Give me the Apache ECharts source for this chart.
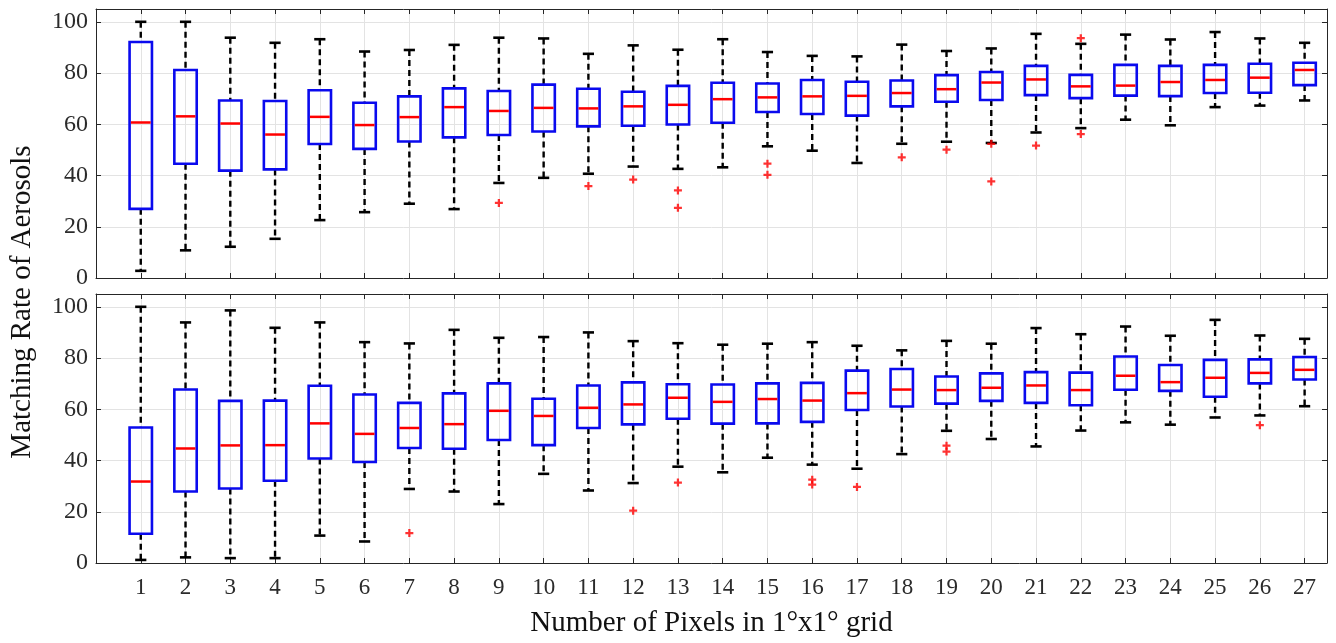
<!DOCTYPE html>
<html><head><meta charset="utf-8">
<script src="https://cdn.jsdelivr.net/npm/echarts@6/dist/echarts.min.js"></script>
<style>html,body{margin:0;padding:0;background:#fff}#c{width:1336px;height:643px}</style>
</head><body><div id="c"></div>
<script>
// ---------- data ----------
const categories = [1,2,3,4,5,6,7,8,9,10,11,12,13,14,15,16,17,18,19,20,21,22,23,24,25,26,27];
const yTickLabels = [0,20,40,60,80,100];
const xTitle = 'Number of Pixels in 1°x1° grid';
const yTitle = 'Matching Rate of Aerosols';

// top panel
const topMin = [2.8,10.8,12.2,15.3,22.6,25.7,29.0,26.9,37.1,39.1,40.7,43.5,42.6,43.2,51.4,49.7,44.9,52.4,53.2,52.7,56.8,58.5,61.8,59.6,66.7,67.3,69.3];
const topQ1  = [27.0,44.6,41.9,42.4,52.3,50.4,53.3,54.9,55.8,57.2,59.2,59.4,59.9,60.6,64.8,64.0,63.4,67.0,68.8,69.5,71.4,70.2,71.2,71.0,72.2,72.3,75.3];
const topMed = [60.7,63.1,60.3,56.0,62.9,59.7,62.8,66.7,65.2,66.4,66.2,67.0,67.6,69.8,70.5,70.9,71.1,72.2,73.7,76.3,77.5,74.8,75.1,76.5,77.3,78.2,81.2];
const topQ3  = [92.1,81.2,69.3,69.1,73.3,68.4,70.9,74.0,73.0,75.5,73.9,72.7,75.0,76.2,75.9,77.3,76.6,77.1,79.2,80.4,82.8,79.3,83.2,82.8,83.2,83.6,84.0];
const topMax = [100,100,93.8,91.8,93.2,88.4,89.0,91.0,93.8,93.5,87.5,90.8,89.1,93.2,88.2,86.7,86.5,91.1,88.6,89.6,95.3,91.4,95.0,93.1,96.0,93.5,91.8];
const topOutliers = [[9,29.3],[11,35.9],[12,38.4],[13,34.2],[13,27.4],[15,44.6],[15,40.3],[18,47.1],[19,50.1],[20,52.4],[20,37.7],[21,51.7],[22,93.6],[22,56.2]];

// bottom panel
const botMin = [1.2,2.2,1.9,1.9,10.7,8.4,28.9,27.9,23.0,34.8,28.3,31.2,37.6,35.4,41.1,38.4,36.8,42.5,51.6,48.4,45.5,51.7,54.9,54.0,56.8,57.6,61.2];
const botQ1  = [11.4,27.9,29.1,32.1,40.8,39.4,44.9,44.6,48.0,46.0,52.7,54.1,56.3,54.4,54.5,55.1,59.7,61.1,62.2,63.3,62.5,61.6,67.6,67.2,64.9,70.1,71.6];
const botMed = [31.8,44.7,45.9,46.0,54.5,50.4,52.7,54.2,59.4,57.4,60.6,61.9,64.5,62.9,64.0,63.4,66.3,67.7,67.5,68.4,69.3,67.5,73.1,70.6,72.3,74.2,75.4];
const botQ3  = [52.9,67.7,63.3,63.4,69.2,65.8,62.5,66.2,70.1,64.1,69.3,70.5,69.8,69.7,70.1,70.3,75.1,75.7,72.8,74.0,74.5,74.3,80.6,77.3,79.3,79.5,80.4];
const botMax = [100,93.9,98.6,91.8,93.9,86.2,85.7,91.0,87.9,88.2,90.0,86.6,85.8,85.2,85.6,86.2,84.8,83.0,86.7,85.6,91.7,89.3,92.3,88.7,94.9,88.8,87.5];
const botOutliers = [[7,11.7],[12,20.4],[13,31.4],[16,32.5],[16,30.6],[17,29.7],[19,45.8],[19,43.5],[26,53.8]];

// ---------- chart ----------
const FONT = "'Liberation Serif', 'Times New Roman', serif";
const BOX_W = 0.5, CAP_W = 0.25;
const AX = '#262626', GRIDC = '#e3e3e3';

function rows(mn,q1,md,q3,mx){ return categories.map((c,i)=>[c,mn[i],q1[i],md[i],q3[i],mx[i]]); }

function renderBox(params, api){
  const x = api.value(0);
  const c = v => api.coord([x, v]);
  const pLo=c(api.value(1)), pQ1=c(api.value(2)), pMd=c(api.value(3)), pQ3=c(api.value(4)), pHi=c(api.value(5));
  const bw = api.size([BOX_W,0])[0], cw = api.size([CAP_W,0])[0];
  const cx = pMd[0];
  const dash = {stroke:'#000', lineWidth:2.4, lineDash:[6,4], fill:null};
  const solid = {stroke:'#000', lineWidth:2.6, fill:null};
  return {type:'group', children:[
    {type:'line', shape:{x1:cx,y1:pHi[1],x2:cx,y2:pQ3[1]}, style:dash},
    {type:'line', shape:{x1:cx,y1:pQ1[1],x2:cx,y2:pLo[1]}, style:dash},
    {type:'line', shape:{x1:cx-cw/2,y1:pHi[1],x2:cx+cw/2,y2:pHi[1]}, style:solid},
    {type:'line', shape:{x1:cx-cw/2,y1:pLo[1],x2:cx+cw/2,y2:pLo[1]}, style:solid},
    {type:'rect', shape:{x:cx-bw/2,y:pQ3[1],width:bw,height:pQ1[1]-pQ3[1]}, style:{fill:'transparent', stroke:'#0a0aee', lineWidth:2.6}},
    {type:'line', shape:{x1:cx-bw/2+1.3,y1:pMd[1],x2:cx+bw/2-1.3,y2:pMd[1]}, style:{stroke:'#ff0000', lineWidth:2.5}}
  ]};
}

const PLUS = 'path://M3.6,0H6.4V3.6H10V6.4H6.4V10H3.6V6.4H0V3.6H3.6Z';

function xAxes(gi, showLabels){
  return [
    {gridIndex:gi, type:'value', position:'bottom', min:0, max:27.5, interval:1,
     axisLine:{show:true, onZero:false, lineStyle:{color:AX, width:1}},
     axisTick:{show:true, inside:true, length:5, lineStyle:{color:AX}},
     axisLabel:{show:showLabels, margin:13, color:'#2b2b2b', fontFamily:FONT, fontSize:23,
       showMinLabel:true, showMaxLabel:true,
       formatter: v => (Number.isInteger(v) && categories.indexOf(v)>=0) ? String(v) : ''},
     splitLine:{show:true, lineStyle:{color:GRIDC, width:1}},
     name: showLabels ? xTitle : '', nameLocation:'middle', nameGap:46,
     nameTextStyle:{fontFamily:FONT, fontSize:29, color:'#111'}},
    {gridIndex:gi, type:'value', position:'top', min:0, max:27.5, interval:1,
     axisLine:{show:true, onZero:false, lineStyle:{color:AX, width:1}},
     axisTick:{show:true, inside:true, length:5, lineStyle:{color:AX}},
     axisLabel:{show:false}, splitLine:{show:false}}
  ];
}
function yAxes(gi){
  return [
    {gridIndex:gi, type:'value', position:'left', min:0, max:105, interval:20,
     axisLine:{show:true, onZero:false, lineStyle:{color:AX, width:1}},
     axisTick:{show:true, inside:true, length:5, lineStyle:{color:AX}},
     axisLabel:{show:true, margin:8, color:'#2b2b2b', fontFamily:FONT, fontSize:24,
       formatter: v => yTickLabels.indexOf(v)>=0 ? String(v) : ''},
     splitLine:{show:true, lineStyle:{color:GRIDC, width:1}}},
    {gridIndex:gi, type:'value', position:'right', min:0, max:105, interval:20,
     axisLine:{show:true, onZero:false, lineStyle:{color:AX, width:1}},
     axisTick:{show:true, inside:true, length:5, lineStyle:{color:AX}},
     axisLabel:{show:false}, splitLine:{show:false}}
  ];
}

const option = {
  animation:false,
  backgroundColor:'#fff',
  grid:[
    {left:96, right:9, top:9, height:269},
    {left:96, right:9, top:294, height:269}
  ],
  xAxis:[...xAxes(0,false), ...xAxes(1,true)],
  yAxis:[...yAxes(0), ...yAxes(1)],
  graphic:[{type:'text', x:22, y:302, rotation:Math.PI/2,
    style:{text:yTitle, font:"29px 'Liberation Serif', 'Times New Roman', serif", fill:'#111', align:'center', verticalAlign:'middle'}}],
  series:[
    {type:'custom', xAxisIndex:0, yAxisIndex:0, renderItem:renderBox, encode:{x:0, y:[1,2,3,4,5]},
     data: rows(topMin,topQ1,topMed,topQ3,topMax), z:3},
    {type:'scatter', xAxisIndex:0, yAxisIndex:0, symbol:PLUS, symbolSize:8, itemStyle:{color:'#ff0000'}, data:topOutliers, z:4},
    {type:'custom', xAxisIndex:2, yAxisIndex:2, renderItem:renderBox, encode:{x:0, y:[1,2,3,4,5]},
     data: rows(botMin,botQ1,botMed,botQ3,botMax), z:3},
    {type:'scatter', xAxisIndex:2, yAxisIndex:2, symbol:PLUS, symbolSize:8, itemStyle:{color:'#ff0000'}, data:botOutliers, z:4}
  ]
};
const chart = echarts.init(document.getElementById('c'), null, {renderer:'canvas'});
chart.setOption(option);
</script></body></html>
